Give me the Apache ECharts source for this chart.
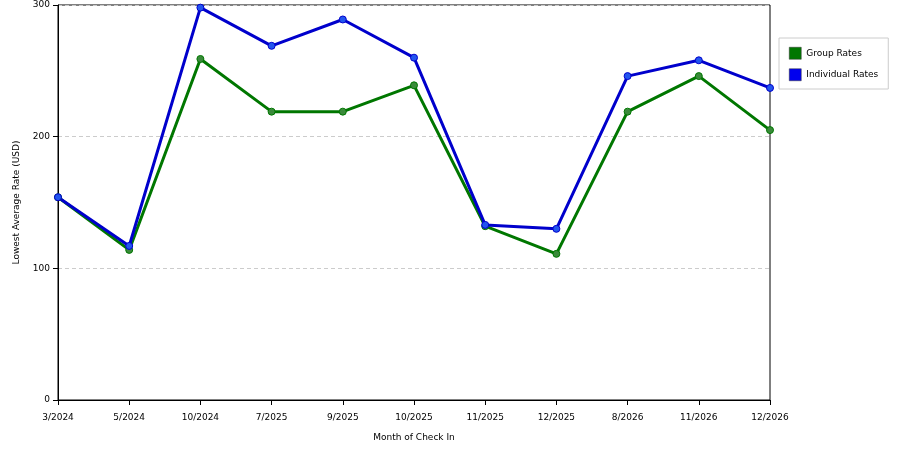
<!DOCTYPE html>
<html>
<head>
<meta charset="utf-8">
<script src="https://cdn.jsdelivr.net/npm/echarts@6/dist/echarts.min.js"></script>
<style>
  html, body { margin: 0; padding: 0; background: #fff; }
  #main { width: 900px; height: 450px; }
</style>
</head>
<body>
<div id="main"></div>
<script>
var months = ['3/2024', '5/2024', '10/2024', '7/2025', '9/2025', '10/2025', '11/2025', '12/2025', '8/2026', '11/2026', '12/2026'];
var groupRates = [154, 114, 259, 219, 219, 239, 132, 111, 219, 246, 205];
var individualRates = [154, 117, 298, 269, 289, 260, 133, 130, 246, 258, 237];
var yTicks = [0, 100, 200, 300];

var font = 'DejaVu Sans';
var chart = echarts.init(document.getElementById('main'));
chart.setOption({
    animation: false,
    textStyle: {fontFamily: font},
    grid: {
        left: 58, right: 130, top: 5, bottom: 50,
        show: true, borderColor: '#000', borderWidth: 1
    },
    legend: {
        orient: 'vertical',
        left: 779, top: 38,
        width: 110,
        padding: [9, 10, 8, 10],
        itemGap: 9,
        itemWidth: 12, itemHeight: 12,
        icon: 'rect',
        borderColor: '#ccc', borderWidth: 1,
        textStyle: {fontSize: 9, color: '#000', fontFamily: font},
        data: [
            {name: 'Group Rates', itemStyle: {color: '#007700', borderColor: '#333', borderWidth: 0.5}},
            {name: 'Individual Rates', itemStyle: {color: '#0000ee', borderColor: '#333', borderWidth: 0.5}}
        ]
    },
    xAxis: {
        type: 'category',
        data: months,
        boundaryGap: false,
        name: 'Month of Check In',
        nameLocation: 'middle',
        nameGap: 33,
        nameTextStyle: {fontSize: 9, color: '#000'},
        axisLine: {lineStyle: {color: '#000'}},
        axisTick: {alignWithLabel: true, length: 5, lineStyle: {color: '#000'}},
        axisLabel: {fontSize: 9, color: '#000', margin: 13, interval: 0}
    },
    yAxis: {
        type: 'value',
        min: yTicks[0], max: yTicks[yTicks.length - 1], interval: 100,
        name: 'Lowest Average Rate (USD)',
        nameLocation: 'middle',
        nameGap: 37,
        nameTextStyle: {fontSize: 9, color: '#000'},
        axisLine: {show: true, lineStyle: {color: '#000'}},
        axisTick: {show: true, length: 5, lineStyle: {color: '#000'}},
        axisLabel: {fontSize: 9, color: '#000', margin: 8},
        splitLine: {lineStyle: {color: '#ccc', type: [4, 3]}}
    },
    series: [
        {
            name: 'Group Rates',
            type: 'line',
            data: groupRates,
            symbol: 'circle', symbolSize: 7,
            lineStyle: {color: '#007700', width: 3},
            itemStyle: {color: '#3a8a3a', borderColor: '#007700', borderWidth: 1}
        },
        {
            name: 'Individual Rates',
            type: 'line',
            data: individualRates,
            symbol: 'circle', symbolSize: 7,
            lineStyle: {color: '#0000cc', width: 3},
            itemStyle: {color: '#2255ee', borderColor: '#0000cc', borderWidth: 1}
        }
    ]
});
</script>
</body>
</html>
